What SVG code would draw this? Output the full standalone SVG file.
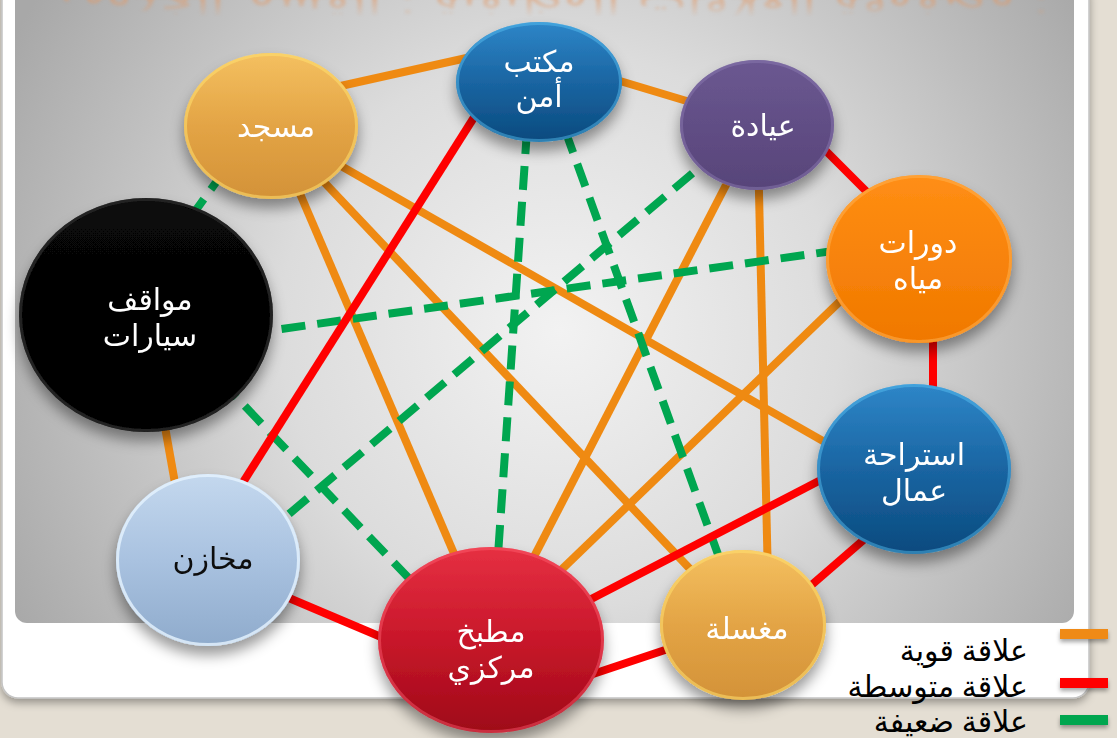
<svg xmlns="http://www.w3.org/2000/svg" width="1117" height="738" viewBox="0 0 1117 738">
<defs>
<style>
.s{stroke:#EF8A12;stroke-width:8;fill:none;stroke-linecap:butt}
.m{stroke:#FF0000;stroke-width:8;fill:none}
.w{stroke:#00A650;stroke-width:8;fill:none;stroke-dasharray:24 12}
.t{font-family:"Noto Sans","DejaVu Sans",sans-serif;font-size:30px;text-anchor:middle}
.wt{fill:#FFFFFF}
.bt{fill:#111111}
.lg{font-family:"Noto Sans","DejaVu Sans",sans-serif;font-size:30px;fill:#000;text-anchor:end}
</style>
<radialGradient id="bg" cx="560" cy="330" r="620" gradientUnits="userSpaceOnUse">
<stop offset="0" stop-color="#F2F2F2"/><stop offset="0.45" stop-color="#DCDCDC"/><stop offset="1" stop-color="#A8A8A8"/>
</radialGradient>
<filter id="sh" x="-30%" y="-30%" width="160%" height="170%">
<feDropShadow dx="0" dy="9" stdDeviation="7" flood-color="#000" flood-opacity="0.4"/>
</filter>
<filter id="psh" x="-5%" y="-5%" width="110%" height="115%">
<feDropShadow dx="0" dy="4" stdDeviation="4" flood-color="#000" flood-opacity="0.35"/>
</filter>
<filter id="lsh" filterUnits="userSpaceOnUse" x="1040" y="610" width="80" height="128">
<feDropShadow dx="0" dy="3" stdDeviation="2" flood-color="#000" flood-opacity="0.35"/>
</filter>
<filter id="bl"><feGaussianBlur stdDeviation="1.5"/></filter>
<linearGradient id="fade" x1="0" y1="0" x2="0" y2="1" gradientUnits="objectBoundingBox">
<stop offset="0" stop-color="#fff" stop-opacity="0.5"/><stop offset="1" stop-color="#fff" stop-opacity="0"/>
</linearGradient>
<mask id="fm" maskUnits="userSpaceOnUse" x="0" y="0" width="1117" height="30">
<rect x="0" y="0" width="1117" height="17" fill="url(#fade)"/>
</mask>
<linearGradient id="gBlue" x1="0" y1="0" x2="0" y2="1">
<stop offset="0" stop-color="#2E86C8"/><stop offset="0.5" stop-color="#1A65A2"/><stop offset="1" stop-color="#0A4A7E"/>
</linearGradient>
<linearGradient id="gGold" x1="0" y1="0" x2="0" y2="1">
<stop offset="0" stop-color="#F4C060"/><stop offset="0.5" stop-color="#E3A445"/><stop offset="1" stop-color="#D39238"/>
</linearGradient>
<linearGradient id="gPurp" x1="0" y1="0" x2="0" y2="1">
<stop offset="0" stop-color="#6B5891"/><stop offset="1" stop-color="#574479"/>
</linearGradient>
<linearGradient id="gOr" x1="0" y1="0" x2="0" y2="1">
<stop offset="0" stop-color="#FF8E14"/><stop offset="1" stop-color="#F07800"/>
</linearGradient>
<linearGradient id="gBlk" x1="0" y1="0" x2="0" y2="1">
<stop offset="0" stop-color="#080808"/><stop offset="1" stop-color="#000000"/>
</linearGradient>
<linearGradient id="gLb" x1="0" y1="0" x2="0" y2="1">
<stop offset="0" stop-color="#C4D8EE"/><stop offset="0.5" stop-color="#A9C2E0"/><stop offset="1" stop-color="#8FABCC"/>
</linearGradient>
<linearGradient id="gRed" x1="0" y1="0" x2="0" y2="1">
<stop offset="0" stop-color="#E63042"/><stop offset="0.5" stop-color="#C8172A"/><stop offset="1" stop-color="#9E0818"/>
</linearGradient>
</defs>

<rect x="0" y="0" width="1117" height="738" fill="#E4DED3"/>
<rect x="2" y="-20" width="1087" height="718" rx="16" fill="#FFFFFF" stroke="#C4C4C4" stroke-width="1.5" filter="url(#psh)"/>
<rect x="15" y="-20" width="1059" height="643" rx="12" fill="url(#bg)"/>

<g mask="url(#fm)" filter="url(#bl)">
<text transform="translate(0,-6) scale(1,-1)" x="555" y="0" font-family="DejaVu Sans,sans-serif" font-size="40" fill="#E39A68" text-anchor="middle" textLength="990" lengthAdjust="spacingAndGlyphs">مصفوفة العلاقات الوظيفية : القسم الخدمي :</text>
</g>

<g id="connectors">
<line class="s" x1="300" y1="95" x2="480" y2="55"/>
<line class="s" x1="600" y1="75" x2="700" y2="105"/>
<line class="s" x1="271" y1="126" x2="743" y2="625"/>
<line class="s" x1="271" y1="126" x2="900" y2="485"/>
<line class="s" x1="271" y1="126" x2="491" y2="640"/>
<line class="s" x1="757" y1="125" x2="491" y2="640"/>
<line class="s" x1="758" y1="150" x2="768" y2="580"/>
<line class="s" x1="860" y1="282" x2="530" y2="600"/>
<line class="s" x1="162" y1="410" x2="178" y2="500"/>
<line class="w" x1="225" y1="170" x2="185" y2="225"/>
<line class="w" x1="527" y1="130" x2="497" y2="570"/>
<line class="w" x1="565" y1="130" x2="720" y2="560"/>
<line class="w" x1="720" y1="150" x2="270" y2="530"/>
<line class="w" x1="840" y1="250" x2="260" y2="332"/>
<line class="w" x1="220" y1="380" x2="420" y2="590"/>
<line class="m" x1="485" y1="100" x2="235" y2="495"/>
<line class="m" x1="815" y1="140" x2="875" y2="200"/>
<line class="m" x1="933" y1="330" x2="933" y2="400"/>
<line class="m" x1="875" y1="530" x2="800" y2="595"/>
<line class="m" x1="840" y1="470" x2="570" y2="610"/>
<line class="m" x1="680" y1="645" x2="590" y2="675"/>
<line class="m" x1="270" y1="590" x2="400" y2="645"/>
</g>

<g id="n-amn" filter="url(#sh)">
<ellipse cx="539" cy="82" rx="83" ry="60" fill="url(#gBlue)"/>
<ellipse cx="539" cy="82" rx="81.5" ry="58.5" fill="none" stroke="#5CC4F4" stroke-opacity="0.45" stroke-width="3"/>
<text class="t wt" x="539" y="72">مكتب</text>
<text class="t wt" x="539" y="107">أمن</text>
</g>
<g id="n-masjid" filter="url(#sh)">
<ellipse cx="271" cy="126" rx="87" ry="73" fill="url(#gGold)"/>
<ellipse cx="271" cy="126" rx="85.5" ry="71.5" fill="none" stroke="#FFE070" stroke-opacity="0.55" stroke-width="3"/>
<text class="t wt" x="276" y="137">مسجد</text>
</g>
<g id="n-clinic" filter="url(#sh)">
<ellipse cx="757" cy="125" rx="77" ry="65" fill="url(#gPurp)"/>
<ellipse cx="757" cy="125" rx="75.5" ry="63.5" fill="none" stroke="#8A78B0" stroke-opacity="0.5" stroke-width="3"/>
<text class="t wt" x="763" y="136">عيادة</text>
</g>
<g id="n-wc" filter="url(#sh)">
<ellipse cx="919" cy="259" rx="93" ry="84" fill="url(#gOr)"/>
<ellipse cx="919" cy="259" rx="91.5" ry="82.5" fill="none" stroke="#FFB050" stroke-opacity="0.55" stroke-width="3"/>
<text class="t wt" x="918" y="253">دورات</text>
<text class="t wt" x="918" y="289">مياه</text>
</g>
<g id="n-parking" filter="url(#sh)">
<ellipse cx="146" cy="315" rx="127" ry="117" fill="url(#gBlk)"/>
<ellipse cx="146" cy="315" rx="125.5" ry="115.5" fill="none" stroke="#404040" stroke-opacity="0.5" stroke-width="3"/>
<text class="t wt" x="150" y="310">مواقف</text>
<text class="t wt" x="150" y="346">سيارات</text>
</g>
<g id="n-rest" filter="url(#sh)">
<ellipse cx="914" cy="469" rx="97" ry="85" fill="url(#gBlue)"/>
<ellipse cx="914" cy="469" rx="95.5" ry="83.5" fill="none" stroke="#5CC4F4" stroke-opacity="0.45" stroke-width="3"/>
<text class="t wt" x="914" y="465">استراحة</text>
<text class="t wt" x="914" y="501">عمال</text>
</g>
<g id="n-store" filter="url(#sh)">
<ellipse cx="208" cy="560" rx="92" ry="86" fill="url(#gLb)"/>
<ellipse cx="208" cy="560" rx="90.5" ry="84.5" fill="none" stroke="#E6F4FF" stroke-opacity="0.8" stroke-width="3"/>
<text class="t bt" x="213" y="569">مخازن</text>
</g>
<g id="n-kitchen" filter="url(#sh)">
<ellipse cx="491" cy="640" rx="113" ry="93" fill="url(#gRed)"/>
<ellipse cx="491" cy="640" rx="111.5" ry="91.5" fill="none" stroke="#FF6070" stroke-opacity="0.45" stroke-width="3"/>
<text class="t wt" x="491" y="642">مطبخ</text>
<text class="t wt" x="491" y="678">مركزي</text>
</g>
<g id="n-laundry" filter="url(#sh)">
<ellipse cx="743" cy="625" rx="83" ry="75" fill="url(#gGold)"/>
<ellipse cx="743" cy="625" rx="81.5" ry="73.5" fill="none" stroke="#FFE070" stroke-opacity="0.55" stroke-width="3"/>
<text class="t wt" x="747" y="639">مغسلة</text>
</g>

<g id="legend">
<g filter="url(#lsh)">
<rect x="1060" y="629" width="48" height="10" fill="#EF8A12"/>
<rect x="1060" y="678" width="48" height="10" fill="#FF0000"/>
<rect x="1060" y="715" width="48" height="10" fill="#00A650"/>
</g>
<text class="lg" x="1028" y="661">علاقة قوية</text>
<text class="lg" x="1028" y="697">علاقة متوسطة</text>
<text class="lg" x="1028" y="732">علاقة ضعيفة</text>
</g>
</svg>
